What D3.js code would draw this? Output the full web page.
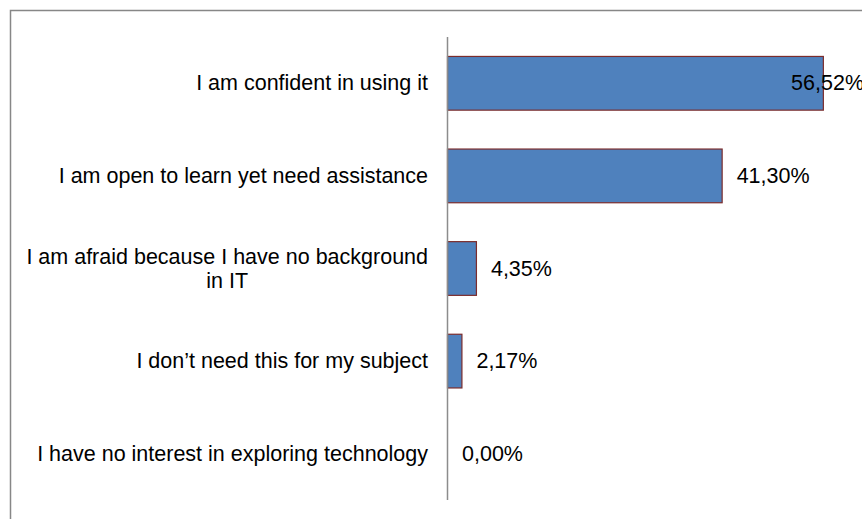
<!DOCTYPE html>
<html>
<head>
<meta charset="utf-8">
<script src="https://cdn.jsdelivr.net/npm/d3@7"></script>
<style>
  html, body { margin: 0; padding: 0; background: #fff; }
  svg { display: block; }
</style>
</head>
<body>
<svg id="chart" width="862" height="519"></svg>
<script>
// Survey answers, top to bottom
const categories = [
  "I am confident in using it",
  "I am open to learn yet need assistance",
  "I am afraid because I have no background in IT",
  "I don\u2019t need this for my subject",
  "I have no interest in exploring technology"
];
// Share of respondents, percent
const values = [56.52, 41.30, 4.35, 2.17, 0.00];

const W = 862, H = 519;
const font = "Liberation Sans, Arial, sans-serif";
const fontSize = 21.5;

const svg = d3.select("#chart");

// outer chart frame (continues past the right and bottom edges)
svg.append("rect")
  .attr("x", 10.5).attr("y", 10.5)
  .attr("width", W + 10).attr("height", H + 10)
  .attr("fill", "none").attr("stroke", "#878787").attr("stroke-width", 1.5);

const x0 = 447.5;
const x = d3.scaleLinear().domain([0, 60]).range([x0, x0 + 60 * 6.65]);
const y = d3.scaleBand().domain(categories).range([37, 500]).paddingInner(0.42).paddingOuter(0.21);

const fmt = v => d3.format(".2f")(v).replace(".", ",") + "%";

// bars
svg.append("g").selectAll("rect").data(values).join("rect")
  .attr("x", x(0))
  .attr("y", (d, i) => y(categories[i]))
  .attr("width", d => x(d) - x(0))
  .attr("height", y.bandwidth())
  .attr("fill", "#4f81bd")
  .attr("stroke", "#7b2c2c")
  .attr("stroke-width", 1.2)
  .style("display", d => d > 0 ? null : "none");

// category axis line
svg.append("line")
  .attr("x1", x0).attr("x2", x0)
  .attr("y1", 37).attr("y2", 500)
  .attr("stroke", "#8c8c8c").attr("stroke-width", 1.5);

// measuring helper for wrapping
const measure = svg.append("text").attr("font-family", font).attr("font-size", fontSize).attr("visibility", "hidden");
function textWidth(s) { measure.text(s); return measure.node().getComputedTextLength(); }

const labelRight = 428;
const maxLabelW = 415;
const lineH = 24;

const labels = svg.append("g").attr("font-family", font).attr("font-size", fontSize).attr("fill", "#000");
categories.forEach(c => {
  const words = c.split(" ");
  const lines = [];
  let cur = "";
  words.forEach(w => {
    const t = cur ? cur + " " + w : w;
    if (textWidth(t) > maxLabelW && cur) { lines.push(cur); cur = w; } else cur = t;
  });
  lines.push(cur);
  const cy = y(c) + y.bandwidth() / 2;
  if (lines.length === 1) {
    labels.append("text").attr("x", labelRight).attr("y", cy)
      .attr("text-anchor", "end").attr("dominant-baseline", "central").text(lines[0]);
  } else {
    const maxW = d3.max(lines, textWidth);
    const cx = labelRight - maxW / 2;
    lines.forEach((l, k) => {
      labels.append("text").attr("x", cx)
        .attr("y", cy + (k - (lines.length - 1) / 2) * lineH)
        .attr("text-anchor", "middle").attr("dominant-baseline", "central").text(l);
    });
  }
});

// value labels, pulled back at the right edge of the chart area
const valRightLimit = 864;
svg.append("g").attr("font-family", font).attr("font-size", fontSize).attr("fill", "#000")
  .selectAll("text").data(values).join("text")
  .attr("x", d => Math.min(x(d) + 14.5, valRightLimit - textWidth(fmt(d))))
  .attr("y", (d, i) => y(categories[i]) + y.bandwidth() / 2)
  .attr("dominant-baseline", "central")
  .text(fmt);
measure.remove();
</script>
</body>
</html>
